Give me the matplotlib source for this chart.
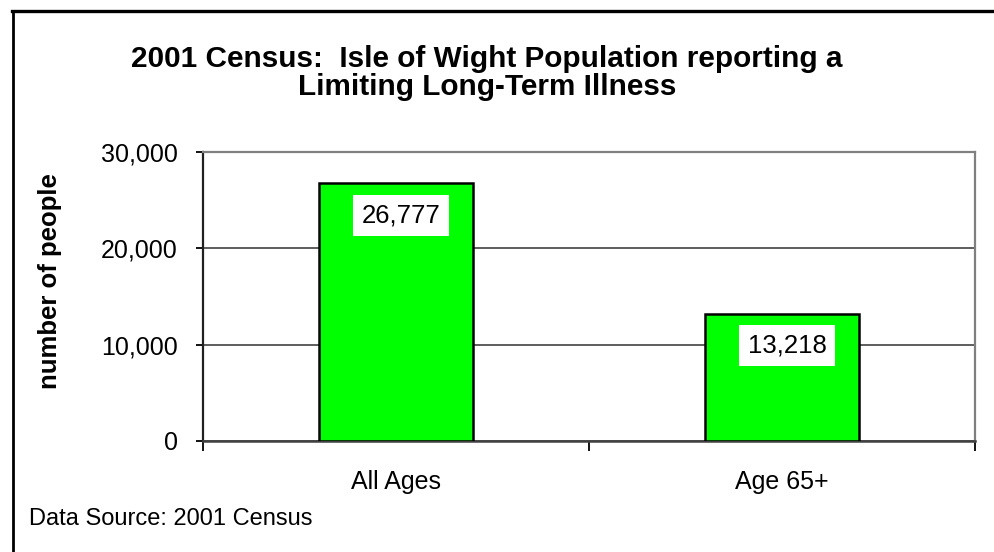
import matplotlib
matplotlib.use("Agg")
import matplotlib.pyplot as plt
from matplotlib.lines import Line2D
from matplotlib.ticker import FuncFormatter

plt.rcParams['font.family'] = ['Liberation Sans', 'DejaVu Sans']

categories = ["All Ages", "Age 65+"]
values = [26777, 13218]
label_texts = ["26,777", "13,218"]
y_ticks = [0, 10000, 20000, 30000]

W, H = 995, 552
fig = plt.figure(figsize=(W / 100, H / 100), dpi=100)
ax = fig.add_axes([203 / W, (H - 441) / H, (975 - 203) / W, (441 - 152) / H])

x = list(range(len(categories)))
ax.bar(x, values, width=0.4, color='#00FF00', edgecolor='black', linewidth=1.8, zorder=3)

ax.set_xlim(-0.5, len(categories) - 0.5)
ax.set_ylim(0, 30000)
ax.set_yticks(y_ticks)
ax.yaxis.set_major_formatter(FuncFormatter(lambda v, p: f"{int(v):,}"))
ax.grid(axis='y', color='#505050', linewidth=1.3, zorder=1)
ax.set_axisbelow(True)

ax.set_xticks(x)
ax.set_xticklabels(categories)
ax.set_xticks([i - 0.5 for i in range(len(categories) + 1)], minor=True)
ax.tick_params(axis='x', which='major', length=0, pad=21, labelsize=18)
ax.tick_params(axis='x', which='minor', length=7, width=1.3, direction='out', color='black')
ax.tick_params(axis='y', which='major', length=5, width=1.3, direction='out', pad=13, labelsize=18)

for s in ['top', 'right']:
    ax.spines[s].set_color('#808080')
    ax.spines[s].set_linewidth(1.6)
ax.spines['left'].set_color('#202020')
ax.spines['left'].set_linewidth(1.6)
ax.spines['bottom'].set_color('#404040')
ax.spines['bottom'].set_linewidth(1.8)

for xi, v, t in zip(x, values, label_texts):
    ax.annotate(t, xy=(xi, v), xytext=(5, -32), textcoords='offset pixels',
                ha='center', va='center', fontsize=18.5, zorder=5,
                bbox=dict(boxstyle='square,pad=0.33', facecolor='white', edgecolor='none'))

fig.text(50 / W, 1 - 281.5 / H, "number of people", rotation=90, ha='center', va='center',
         fontsize=18.5, fontweight='bold')

fig.text(487 / W, 1 - 73 / H, "2001 Census:  Isle of Wight Population reporting a\nLimiting Long-Term Illness",
         ha='center', va='center', fontsize=21.4, fontweight='bold', linespacing=1.02)

fig.text(29 / W, 1 - 519 / H, "Data Source: 2001 Census", ha='left', va='center', fontsize=17)

# outer border (top and left visible)
fig.add_artist(Line2D([13 / W, 13 / W], [0, 1 - 10.5 / H], transform=fig.transFigure,
                      color='black', linewidth=2.0))
fig.add_artist(Line2D([12 / W, 1], [1 - 10.5 / H, 1 - 10.5 / H], transform=fig.transFigure,
                      color='black', linewidth=2.4))

fig.savefig("out.png", dpi=100)
